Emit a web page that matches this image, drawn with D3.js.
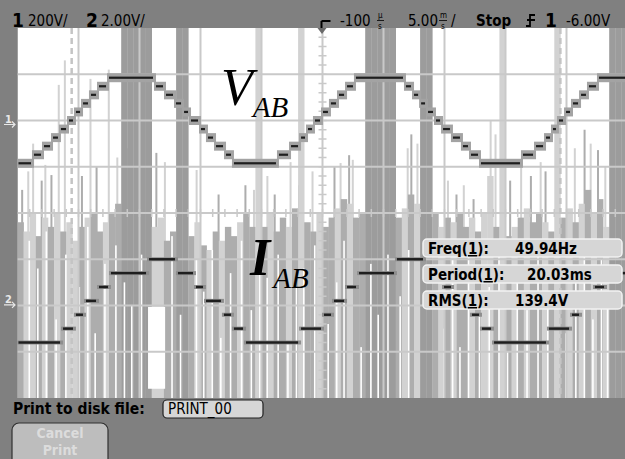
<!DOCTYPE html>
<html><head><meta charset="utf-8">
<script src="https://cdn.jsdelivr.net/npm/d3@7"></script>
<style>html,body{margin:0;padding:0;background:#808080;overflow:hidden}svg{display:block}</style>
</head><body>
<script>
// ---------------- DATA ----------------
const chNames = ["1", "2"];
const chScaleText = ["200V/", "2.00V/"];
const trigDelayText = "-100";
const timebaseText = "5.00";
const runText = "Stop";
const trigSource = "1";
const trigLevelText = "-6.00V";
const measNames = ["Freq", "Period", "RMS"];
const measValues = ["49.94Hz", "20.03ms", "139.4V"];
const printLabel = "Print to disk file:";
const printFile = "PRINT_00";
const cancelText = ["Cancel", "Print"];

// V_AB stepped trace (ch1): step start time (ms) and level (V)
const vTime = [0, 1.27, 2.09, 2.83, 3.48, 4.14, 4.71, 5.29, 5.94, 6.60, 7.42, 11.27, 12.09, 12.91, 13.57, 14.14, 14.96, 15.53, 16.19, 17.01, 17.66, 21.35, 22.34, 23.16, 23.73, 24.30, 24.96, 25.61, 26.27, 26.93, 27.66, 31.76, 32.42, 33.00, 33.57, 34.22, 34.80, 35.61, 36.43, 37.09, 37.91, 41.35, 42.42, 43.24, 43.81, 44.30, 44.88, 45.45, 46.11, 46.76, 47.58];
const vVolt = [-185, -148, -111, -74, -37, 0, 37, 74, 111, 148, 185, 148, 111, 74, 37, 0, -37, -74, -111, -148, -185, -148, -111, -74, -37, 0, 37, 74, 111, 148, 185, 148, 111, 74, 37, 0, -37, -74, -111, -148, -185, -148, -111, -74, -37, 0, 37, 74, 111, 148, 185];

// I_AB stepped trace (ch2): step start time (ms) and level (V on probe)
const iTime = [0, 3.65, 4.71, 5.53, 6.60, 7.58, 10.70, 13.07, 14.55, 15.37, 16.84, 17.66, 18.65, 23.16, 25.04, 25.86, 26.93, 27.91, 31.02, 33.40, 34.88, 35.70, 37.17, 37.99, 38.98, 43.48, 45.37, 46.19, 47.25, 48.24];
const iVolt = [-1.8, -1.2, -0.6, 0, 0.6, 1.2, 1.8, 1.2, 0.6, 0, -0.6, -1.2, -1.8, -1.2, -0.6, 0, 0.6, 1.2, 1.8, 1.2, 0.6, 0, -0.6, -1.2, -1.8, -1.2, -0.6, 0, 0.6, 1.2];

// Noise body: one column per 0.5 ms, top of the dense gray noise (divisions from top) and shade
const noiseTop = [4.2, 4.4, 4.0, 4.5, 4.1, 4.3, 4.0, 4.4, 4.2, 4.6,
  4.3, 4.1, 4.0, 4.4, 4.2, 4.0, 3.8, 0, 0, 0,
  0, 0, 4.3, 4.1, 4.6, 4.4, 0, 0, 4.5, 4.2,
  4.7, 4.8, 4.4, 4.6, 4.3, 4.5, 4.2, 4.0, 4.3, 0,
  4.3, 4.0, 4.4, 4.1, 4.3, 3.9, 0, 4.2, 4.4, 4.0,
  4.3, 4.1, 3.9, 3.7, 3.8, 4.1, 4.0, 0, 0, 0,
  0, 0, 4.1, 3.9, 3.6, 3.8, 0, 0, 4.0, 4.3,
  4.1, 4.2, 4.0, 4.3, 4.1, 4.4, 4.0, 3.2, 4.3, 0,
  4.5, 4.3, 4.1, 3.9, 4.2, 4.0, 4.2, 4.4, 0, 4.1,
  3.9, 4.2, 3.8, 3.5, 4.0, 3.7, 4.3, 0, 0, 0];
const noiseShade = [1, 0, 0, 1, 0, 1, 0, 1, 0, 0,
  1, 0, 1, 1, 0, 1, 1, 2, 2, 2,
  2, 2, 0, 0, 1, 1, 2, 2, 1, 0,
  1, 0, 1, 0, 1, 1, 0, 1, 1, 0,
  1, 0, 1, 1, 0, 1, 0, 1, 1, 0,
  1, 1, 0, 1, 0, 1, 1, 2, 2, 2,
  2, 2, 1, 0, 1, 0, 2, 2, 1, 0,
  1, 0, 1, 1, 0, 1, 0, 0, 1, 0,
  1, 0, 1, 0, 1, 1, 0, 1, 0, 1,
  0, 1, 0, 1, 0, 1, 0, 2, 2, 2];
// thin gray spikes rising above the noise: time (ms), top (div), shade
const spikeTime = [0.3, 0.8, 1.2, 1.9, 2.2, 2.7, 3.3, 3.8, 5.2, 5.9, 6.4, 7.4, 8.1, 9.0, 11.3, 12.0, 14.6, 16.4, 18.6, 19.3, 20.4, 21.0, 22.3, 23.0, 24.1, 25.9, 26.4, 27.1, 27.4, 29.6, 30.2, 31.9, 32.2, 32.7, 35.2, 35.9, 36.5, 37.3, 38.7, 39.1, 40.3, 41.2, 42.0, 42.8, 43.2, 45.6, 46.4, 46.9, 47.5, 48.1];
const spikeTop = [3.5, 3.1, 2.5, 3.3, 2.96, 3.18, 1.23, 0.7, 3.2, 1.1, 3.0, 0.9, 2.8, 2.6, 2.7, 2.9, 3.07, 3.6, 3.4, 3.5, 3.2, 3.6, 2.9, 3.4, 3.1, 3.0, 2.92, 2.75, 2.85, 2.4, 2.2, 2.6, 2.3, 2.5, 3.3, 3.6, 3.4, 3.7, 1.99, 2.3, 3.3, 3.0, 3.2, 2.9, 3.1, 2.6, 2.2, 2.5, 2.64, 3.0];
const spikeShade = [1, 0, 0, 1, 0, 1, 0, 0, 1, 0, 1, 0, 0, 1, 1, 0, 0, 1, 1, 0, 0, 1, 0, 1, 0, 1, 0, 1, 0, 0, 1, 0, 1, 0, 0, 1, 0, 1, 0, 0, 1, 0, 1, 0, 1, 0, 1, 0, 1, 0];
// thin white streaks in the noise: time (ms) and top (div)
const streakTime = [0.9, 1.6, 2.3, 3.1, 3.9, 5.0, 5.7, 6.3, 7.1, 8.0, 8.7, 9.3, 10.1, 12.6, 13.3, 14.6, 15.2, 15.9, 16.6, 17.4, 18.3, 19.1, 19.8, 20.4, 21.3, 22.1, 22.8, 23.4, 24.3, 25.4, 26.1, 26.7, 28.1, 28.9, 29.5, 30.3, 31.3, 32.0, 34.9, 35.6, 36.2, 36.9, 37.8, 38.6, 39.4, 40.1, 40.9, 41.7, 42.6, 43.4, 44.9, 45.7, 46.4, 47.1, 47.8, 48.3];
const streakTop = [4.6, 5.2, 4.4, 6.3, 4.9, 5.6, 4.3, 6.6, 5.1, 4.7, 5.5, 6.0, 4.9, 4.5, 6.2, 5.0, 5.7, 4.8, 6.7, 5.3, 4.6, 6.1, 5.0, 5.4, 4.9, 6.8, 5.6, 5.2, 4.7, 6.4, 5.5, 4.6, 6.9, 5.1, 6.2, 4.9, 5.8, 4.8, 6.5, 5.0, 6.9, 4.7, 6.2, 5.6, 4.9, 7.0, 5.3, 6.1, 4.8, 5.9, 6.6, 5.2, 4.7, 6.3, 5.0, 5.7];
// white gap below the current peak: [start ms, end ms, top div, bottom div]
const gapRange = [10.7, 12.1, 6.03, 7.8];
// cursor positions (ms)
const cursorTime = [4.44, 44.5];

// ---------------- LAYOUT ----------------
const W = 625, H = 459;
const plot = {x0: 17.5, x1: 627.5, y0: 28, y1: 398};
const xs = d3.scaleLinear().domain([0, 50]).range([plot.x0, plot.x1]);
const yDiv = d3.scaleLinear().domain([0, 8]).range([plot.y0, plot.y1]);
const yCh1 = d3.scaleLinear().domain([-800, 800]).range([yDiv(2) + 4 * 46.25, yDiv(2) - 4 * 46.25]);
const yCh2 = d3.scaleLinear().domain([-8, 8]).range([yDiv(5.9) + 4 * 46.25, yDiv(5.9) - 4 * 46.25]);
const shadeColor = d3.scaleOrdinal().domain([0, 1, 2]).range(["#d2d2d2", "#adadad", "#9c9c9c"]);

const svg = d3.select("body").append("svg").attr("width", W).attr("height", H);
svg.append("rect").attr("width", W).attr("height", H).attr("fill", "#808080");
const defs = svg.append("defs");
defs.append("clipPath").attr("id", "pc").append("rect")
  .attr("x", plot.x0).attr("y", plot.y0).attr("width", W - plot.x0).attr("height", plot.y1 - plot.y0);

const P = svg.append("g").attr("clip-path", "url(#pc)");
P.append("rect").attr("x", plot.x0).attr("y", plot.y0).attr("width", plot.x1 - plot.x0).attr("height", plot.y1 - plot.y0).attr("fill", "#ffffff");

// spikes (behind body)
P.selectAll("rect.spike").data(spikeTime).join("rect").attr("class", "spike")
  .attr("x", d => xs(d)).attr("width", 2)
  .attr("y", (d, i) => yDiv(spikeTop[i])).attr("height", (d, i) => yDiv(8) - yDiv(spikeTop[i]))
  .attr("fill", (d, i) => shadeColor(spikeShade[i]));
// noise body columns
const colW = xs(0.5) - xs(0);
P.selectAll("rect.noise").data(noiseTop).join("rect").attr("class", "noise")
  .attr("x", (d, i) => xs(i * 0.5)).attr("width", colW + 0.3)
  .attr("y", d => yDiv(d)).attr("height", d => yDiv(8) - yDiv(d))
  .attr("fill", (d, i) => shadeColor(noiseShade[i]));
// white streaks
P.selectAll("rect.streak").data(streakTime).join("rect").attr("class", "streak")
  .attr("x", d => xs(d)).attr("width", 1.6)
  .attr("y", (d, i) => yDiv(streakTop[i])).attr("height", (d, i) => yDiv(8) - yDiv(streakTop[i]))
  .attr("fill", "#ffffff");
P.append("rect").attr("x", xs(gapRange[0])).attr("width", xs(gapRange[1]) - xs(gapRange[0]))
  .attr("y", yDiv(gapRange[2])).attr("height", yDiv(gapRange[3]) - yDiv(gapRange[2])).attr("fill", "#ffffff");

// graticule
const gridC = "#c9c9c9";
P.selectAll("line.vg").data(d3.range(5, 50, 5)).join("line").attr("class", "vg")
  .attr("x1", d => xs(d)).attr("x2", d => xs(d)).attr("y1", plot.y0).attr("y2", plot.y1)
  .attr("stroke", gridC).attr("stroke-width", 2);
P.selectAll("line.hg").data(d3.range(1, 8)).join("line").attr("class", "hg")
  .attr("y1", d => yDiv(d)).attr("y2", d => yDiv(d)).attr("x1", plot.x0).attr("x2", plot.x1)
  .attr("stroke", gridC).attr("stroke-width", 2);
P.selectAll("line.vt").data(d3.range(0.2, 8, 0.2)).join("line").attr("class", "vt")
  .attr("x1", xs(25) - 4).attr("x2", xs(25) + 4).attr("y1", d => yDiv(d)).attr("y2", d => yDiv(d))
  .attr("stroke", gridC).attr("stroke-width", 1.5);
P.selectAll("line.ht").data(d3.range(1, 50, 1)).join("line").attr("class", "ht")
  .attr("y1", yDiv(4) - 4).attr("y2", yDiv(4) + 4).attr("x1", d => xs(d)).attr("x2", d => xs(d))
  .attr("stroke", gridC).attr("stroke-width", 1.5);
P.selectAll("line.cur").data(cursorTime).join("line").attr("class", "cur")
  .attr("x1", d => xs(d)).attr("x2", d => xs(d)).attr("y1", plot.y0).attr("y2", plot.y1)
  .attr("stroke", "#c4c4c4").attr("stroke-width", 2.5).attr("stroke-dasharray", "6,4");

// traces
function drawSteps(times, vals, yS, cls, band, dashH, bandC) {
  const steps = times.map((t, i) => ({t0: t, t1: i < times.length - 1 ? times[i + 1] : 50, v: vals[i]}));
  P.selectAll("rect." + cls + "b").data(steps).join("rect").attr("class", cls + "b")
    .attr("x", d => xs(d.t0) - 1).attr("width", d => xs(d.t1) - xs(d.t0) + 2)
    .attr("y", d => yS(d.v) - band / 2).attr("height", band).attr("fill", bandC);
  P.selectAll("rect." + cls + "d").data(steps).join("rect").attr("class", cls + "d")
    .attr("x", d => xs(d.t0) + 1).attr("width", d => Math.max(2, xs(d.t1) - xs(d.t0) - 3))
    .attr("y", d => yS(d.v) - dashH / 2).attr("height", dashH).attr("fill", "#1e1e1e");
}
drawSteps(vTime, vVolt, yCh1, "v", 9, 2.2, "#a3a3a3");
drawSteps(iTime, iVolt, yCh2, "i", 4, 2.4, "#8e8e8e");

// labels V_AB, I_AB (single text each, subscript via tspan)
const lab = svg.append("g").attr("font-family", "'Liberation Serif','Times New Roman',serif").attr("font-style", "italic").attr("fill", "#000");
const tv = lab.append("text").attr("x", 221).attr("y", 105).attr("font-size", 52);
tv.append("tspan").text("V");
tv.append("tspan").attr("font-size", 29).attr("dy", 12).text("AB");
const ti = lab.append("text").attr("x", 250).attr("y", 275).attr("font-size", 52);
ti.append("tspan").attr("font-weight", "bold").text("I");
ti.append("tspan").attr("font-size", 29).attr("dx", 3).attr("dy", 13).text("AB");

// measurement boxes
const mono = "'DejaVu Sans Condensed','DejaVu Sans',sans-serif";
const boxY = [239, 265, 291];
const valX = [515, 527, 515];
measNames.forEach((n, i) => {
  const g = svg.append("g");
  g.append("rect").attr("x", 423).attr("y", boxY[i]).attr("width", 199).attr("height", 18).attr("rx", 4)
    .attr("fill", "#d6d6d6").attr("stroke", "#f2f2f2").attr("stroke-width", 1.5);
  const t = g.append("text").attr("x", 428).attr("y", boxY[i] + 15).attr("font-family", mono)
    .attr("font-size", 15).attr("font-weight", "bold").attr("fill", "#000");
  t.append("tspan").text(n + "(");
  t.append("tspan").attr("text-decoration", "underline").text("1");
  t.append("tspan").text("):");
  g.append("text").attr("x", valX[i]).attr("y", boxY[i] + 15).attr("font-family", mono)
    .attr("font-size", 15).attr("font-weight", "bold").attr("fill", "#000").text(measValues[i]);
});

// top bar
const topBar = svg.append("g").attr("font-family", mono).attr("fill", "#000");
topBar.append("text").attr("x", 12).attr("y", 27).attr("font-size", 19).attr("font-weight", "bold").text(chNames[0]);
topBar.append("text").attr("x", 28).attr("y", 26).attr("font-size", 15).text(chScaleText[0]);
topBar.append("text").attr("x", 86).attr("y", 27).attr("font-size", 19).attr("font-weight", "bold").text(chNames[1]);
topBar.append("text").attr("x", 101).attr("y", 26).attr("font-size", 15).text(chScaleText[1]);
topBar.append("path").attr("d", `M${xs(25) - 1},21 h9 M${xs(25) - 1},21 v7`).attr("stroke", "#000").attr("stroke-width", 2).attr("fill", "none");
svg.append("path").attr("d", `M${xs(25) - 5},28 h9 l-4.5,6 z`).attr("fill", "#6a6a6a");
topBar.append("text").attr("x", 340).attr("y", 26).attr("font-size", 15).text(trigDelayText);
topBar.append("text").attr("x", 378).attr("y", 18).attr("font-size", 8).text("µ");
topBar.append("text").attr("x", 378).attr("y", 28.5).attr("font-size", 8).text("s");
topBar.append("line").attr("x1", 377).attr("x2", 384).attr("y1", 20.5).attr("y2", 20.5).attr("stroke", "#000").attr("stroke-width", 0.8);
topBar.append("text").attr("x", 408).attr("y", 26).attr("font-size", 15).text(timebaseText);
topBar.append("text").attr("x", 440).attr("y", 18).attr("font-size", 8).text("m");
topBar.append("text").attr("x", 441).attr("y", 28.5).attr("font-size", 8).text("s");
topBar.append("line").attr("x1", 439).attr("x2", 447).attr("y1", 20.5).attr("y2", 20.5).attr("stroke", "#000").attr("stroke-width", 0.8);
topBar.append("text").attr("x", 451).attr("y", 26).attr("font-size", 15).text("/");
topBar.append("text").attr("x", 476).attr("y", 26).attr("font-size", 15).attr("font-weight", "bold").text(runText);
topBar.append("path").attr("d", "M526,26 h4 v-11 h5 M527,20 h8").attr("stroke", "#000").attr("stroke-width", 1.8).attr("fill", "none");
topBar.append("text").attr("x", 545).attr("y", 27).attr("font-size", 19).attr("font-weight", "bold").text(trigSource);
topBar.append("text").attr("x", 566).attr("y", 26).attr("font-size", 15).text(trigLevelText);

// left channel markers
const mk = svg.append("g").attr("font-family", mono).attr("fill", "#e8e8e8");
[[chNames[0], yCh1(0)], [chNames[1], yCh2(0)]].forEach(([c, y]) => {
  mk.append("text").attr("x", 5).attr("y", y + 2).attr("font-size", 11).attr("font-weight", "bold").text(c);
  mk.append("path").attr("d", `M4,${y + 4} h11 M12,${y + 1} l3,3 l-3,3`).attr("stroke", "#e8e8e8").attr("stroke-width", 1.2).attr("fill", "none");
});

// bottom bar
const bot = svg.append("g").attr("font-family", mono);
bot.append("text").attr("x", 13).attr("y", 414).attr("font-size", 15.5).attr("font-weight", "bold").attr("fill", "#000").text(printLabel);
bot.append("rect").attr("x", 163).attr("y", 400).attr("width", 100).attr("height", 18).attr("rx", 4)
  .attr("fill", "#d6d6d6").attr("stroke", "#202020").attr("stroke-width", 1.2);
bot.append("text").attr("x", 168).attr("y", 414).attr("font-size", 15).attr("fill", "#000").text(printFile);
bot.append("rect").attr("x", 12).attr("y", 423).attr("width", 96).attr("height", 48).attr("rx", 7)
  .attr("fill", "#bdbdbd").attr("stroke", "#303030").attr("stroke-width", 1.2);
bot.append("text").attr("x", 60).attr("y", 438).attr("text-anchor", "middle").attr("font-size", 14).attr("font-weight", "bold").attr("fill", "#dcdcdc").text(cancelText[0]);
bot.append("text").attr("x", 60).attr("y", 455).attr("text-anchor", "middle").attr("font-size", 14).attr("font-weight", "bold").attr("fill", "#dcdcdc").text(cancelText[1]);
</script>
</body></html>
